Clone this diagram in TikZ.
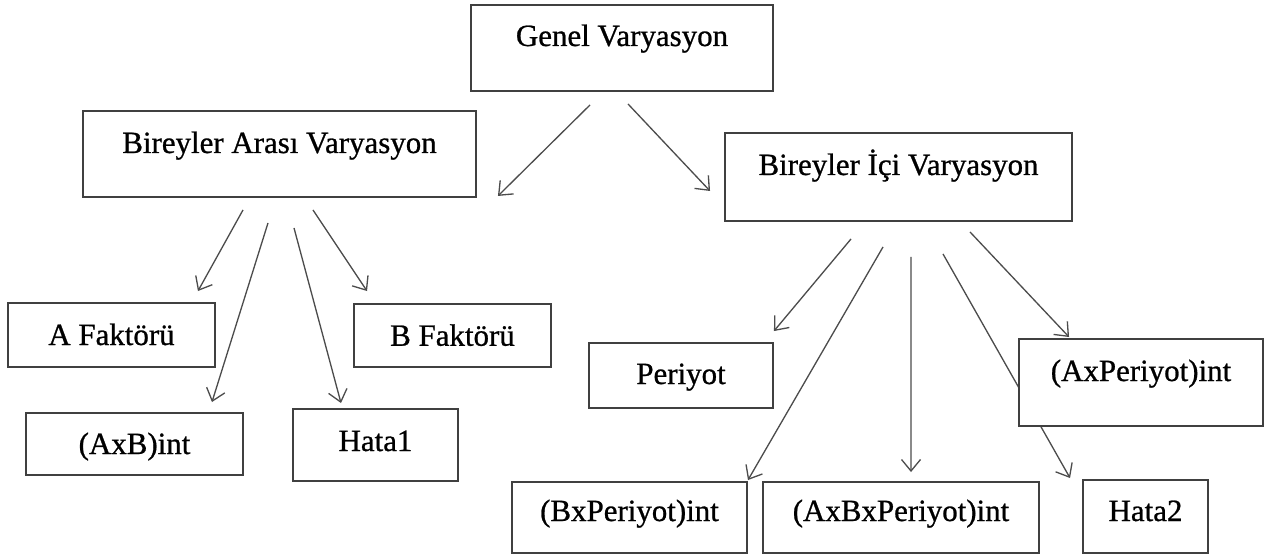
\documentclass[tikz,border=0pt]{standalone}
\usepackage{fontspec}
\setmainfont[FakeBold=0.8]{Liberation Serif}
\usepackage{tikz}
\usetikzlibrary{
    arrows.meta,
    backgrounds
}

\tikzset{
    kutu/.style={draw=black!75, line width=1.1pt, fill=white, rectangle,
        inner sep=0pt, text height=0.41cm},
    ok/.style={->, draw=black!70, line width=0.75pt}
}

\begin{document}
\begin{tikzpicture}[>={Straight Barb[length=0.23cm,width=0.38cm]},
    font=\fontsize{17.6pt}{21pt}\selectfont]
            \useasboundingbox (0,0) rectangle (25.32,-11.12);

            % ust seviye
            \node[kutu, minimum width=6.04cm, minimum height=1.72cm, text depth=0.49cm] (genel) at (12.44,-0.96) {Genel Varyasyon};

            \node[kutu, minimum width=7.86cm, minimum height=1.72cm, text depth=0.45cm] (arasi) at (5.59,-3.08) {Bireyler Arası Varyasyon};
            \node[kutu, minimum width=6.94cm, minimum height=1.76cm, text depth=0.49cm] (ici)   at (17.97,-3.54) {Bireyler İçi Varyasyon};

            % bireyler arasi
            \node[kutu, minimum width=4.14cm, minimum height=1.28cm, text depth=0.01cm] (afak)  at (2.23,-6.70) {A Faktörü};
            \node[kutu, minimum width=3.94cm, minimum height=1.26cm, text depth=0.00cm] (bfak)  at (9.05,-6.71) {B Faktörü};
            \node[kutu, minimum width=4.34cm, minimum height=1.24cm, text depth=0.01cm] (axb)   at (2.69,-8.88) {(AxB)int};
            \node[kutu, minimum width=3.30cm, minimum height=1.44cm, text depth=0.17cm] (hata1) at (7.51,-8.90) {Hata1};

            % bireyler ici
            \node[kutu, minimum width=3.68cm, minimum height=1.30cm, text depth=0.07cm] (periyot) at (13.62,-7.51) {Periyot};
            \node[kutu, minimum width=4.88cm, minimum height=1.74cm, text depth=0.47cm] (axp)     at (22.82,-7.65) {(AxPeriyot)int};
            \node[kutu, minimum width=4.70cm, minimum height=1.42cm, text depth=0.27cm] (bxp)     at (12.59,-10.35) {(BxPeriyot)int};
            \node[kutu, minimum width=5.52cm, minimum height=1.42cm, text depth=0.27cm] (axbxp)   at (18.02,-10.35) {(AxBxPeriyot)int};
            \node[kutu, minimum width=2.50cm, minimum height=1.46cm, text depth=0.23cm] (hata2)   at (22.91,-10.33) {Hata2};

            \begin{pgfonlayer}{background}
            \draw[ok] ([shift={(-0.64,-0.26)}]genel.south)--([shift={(0.42,0.04)}]arasi.south east);
            \draw[ok] ([shift={(0.12,-0.24)}]genel.south)--([shift={(-0.28,-0.28)}]ici.west);

            \draw[ok] ([shift={(-0.73,-0.24)}]arasi.south)--([shift={(-0.36,0.22)}]afak.north east);
            \draw[ok] ([shift={(-0.23,-0.50)}]arasi.south)--([shift={(-0.64,0.20)}]axb.north east);
            \draw[ok] ([shift={(0.29,-0.60)}]arasi.south)--([shift={(-0.69,0.10)}]hata1.north);
            \draw[ok] ([shift={(0.67,-0.24)}]arasi.south)--([shift={(0.28,0.24)}]bfak.north west);

            \draw[ok] ([shift={(-0.95,-0.34)}]ici.south)--([shift={(0,0.22)}]periyot.north east);
            \draw[ok] ([shift={(-0.31,-0.50)}]ici.south)--([shift={(0,0.02)}]bxp.north east);
            \draw[ok] ([shift={(0.25,-0.70)}]ici.south)--([shift={(0.20,0.18)}]axbxp.north);
            \draw[ok] ([shift={(0.89,-0.64)}]ici.south)--([shift={(-0.24,0.02)}]hata2.north west);
            \draw[ok] ([shift={(1.43,-0.20)}]ici.south)--([shift={(1.02,0.02)}]axp.north west);
            \end{pgfonlayer}
\end{tikzpicture}
\end{document}
